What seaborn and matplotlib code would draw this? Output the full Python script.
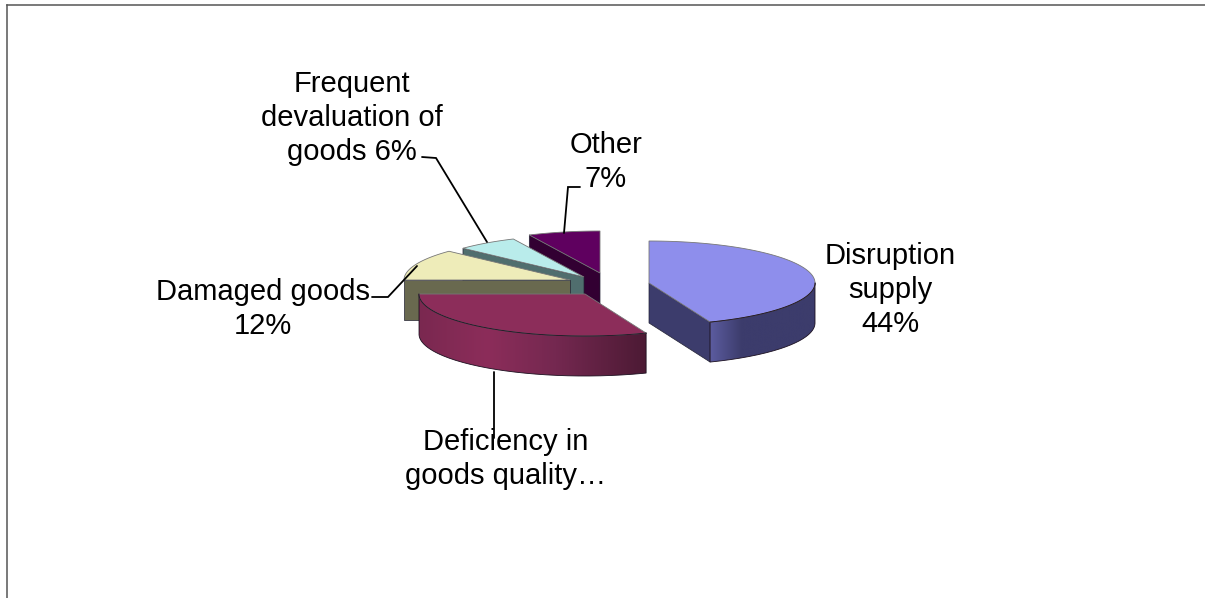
import numpy as np
import matplotlib
matplotlib.use('Agg')
import matplotlib.pyplot as plt
import seaborn as sns
from matplotlib.colors import LinearSegmentedColormap
from matplotlib.patches import Polygon

W, H = 1205, 598

# data
categories = ['Disruption\nsupply\n44%', 'Deficiency in\ngoods quality…', 'Damaged goods\n12%',
              'Frequent\ndevaluation of\ngoods 6%', 'Other\n7%']
values = [44, 31, 12, 6, 7]
top_colors = ['#8e8eec', '#8c2d5a', '#eeecb9', '#b9eceb', '#5f005f']
wall_colors = ['#3c3c6c', '#5a1f3f', '#69694f', '#506e6e', '#320032']
# left to right shading of the round wall
rim_stops = [[(0, '#5c5ca0'), (0.3, '#3c3c6c'), (1, '#3c3c6c')],
             [(0, '#7a2850'), (0.3, '#8c2d5a'), (0.6, '#742850'), (1, '#4c1a34')],
             None, None, None]

# layout, in pixels
apex = [(649, 283), (585, 294), (570, 280), (584, 277), (600, 273)]
rx, ry, depth = 166, 42, 40
label_pos = [(890, 290), (506, 459), (263, 309), (352, 118), (606, 162)]
leaders = [None,
           ([494, 494], [372, 438]),
           ([372, 388, 417], [297, 297, 266]),
           ([422, 436, 487], [157, 158, 242]),
           ([580, 568, 564], [187, 187, 233])]

sns.set_theme(style='white')
plt.rcParams['font.family'] = ['Liberation Sans', 'DejaVu Sans']

fig = plt.figure(figsize=(W / 100, H / 100), dpi=100)
ax = fig.add_axes([7.5 / W, 0, 1 - 7.5 / W, 1 - 5 / H])
ax.set_xticks([])
ax.set_yticks([])
ax.spines['right'].set_visible(False)
ax.spines['bottom'].set_visible(False)
for s in ['left', 'top']:
    ax.spines[s].set_color('#555555')
    ax.spines[s].set_linewidth(1.1)


def rim(cx, cy, a):
    # angle in degrees, clockwise from 12 o'clock
    r = np.radians(a)
    return cx + rx * np.sin(r), cy - ry * np.cos(r)


# angles come from the values
edges = np.concatenate([[0], np.cumsum(values)]) / np.sum(values) * 360

# back slices first
for i in [4, 3, 2, 1, 0]:
    cx, cy = apex[i]
    a0, a1 = edges[i], edges[i + 1]
    z = 20 - i * 3
    x, y = rim(cx, cy, np.linspace(a0, a1, 120))

    # flat side walls, only those facing the viewer
    for a, normal in [(a0, a0 - 90), (a1, a1 + 90)]:
        if -np.cos(np.radians(normal)) > 1e-6:
            ex, ey = rim(cx, cy, a)
            ax.fill([cx, ex, ex, cx], [cy, ey, ey + depth, cy + depth],
                    facecolor=wall_colors[i], edgecolor='#222233', linewidth=0.5, zorder=z)

    # round outer wall on the front half
    lo, hi = max(a0, 90), min(a1, 270)
    if hi > lo:
        sx, sy = rim(cx, cy, np.linspace(lo, hi, 90))
        outline = np.column_stack([np.r_[sx, sx[::-1]], np.r_[sy, sy[::-1] + depth]])
        cmap = LinearSegmentedColormap.from_list('w', rim_stops[i])
        im = ax.imshow(np.linspace(0, 1, 256)[None, :], cmap=cmap, aspect='auto', zorder=z + 1,
                       extent=[sx.min(), sx.max(), (sy + depth).max(), sy.min()])
        im.set_clip_path(Polygon(outline, closed=True, transform=ax.transData))
        ax.plot(np.r_[outline[:, 0], outline[0, 0]], np.r_[outline[:, 1], outline[0, 1]],
                color='#1c1020', lw=0.6, zorder=z + 1.5)

    # top face
    ax.fill(np.r_[cx, x], np.r_[cy, y], facecolor=top_colors[i], edgecolor='#777777',
            linewidth=0.6, zorder=z + 2)
    if hi > lo:
        ax.plot(sx, sy, color='#1c1020', lw=0.6, zorder=z + 2.5)

for seg in leaders:
    if seg is not None:
        ax.plot(seg[0], seg[1], color='black', lw=1.3, zorder=30, solid_joinstyle='miter')

for name, (tx, ty) in zip(categories, label_pos):
    ax.text(tx, ty, name, ha='center', va='center', fontsize=21, color='black',
            linespacing=1.28, zorder=31)

ax.set_xlim(7.5, W)
ax.set_ylim(H, 5)

fig.savefig('out.png', dpi=100, facecolor='white')
